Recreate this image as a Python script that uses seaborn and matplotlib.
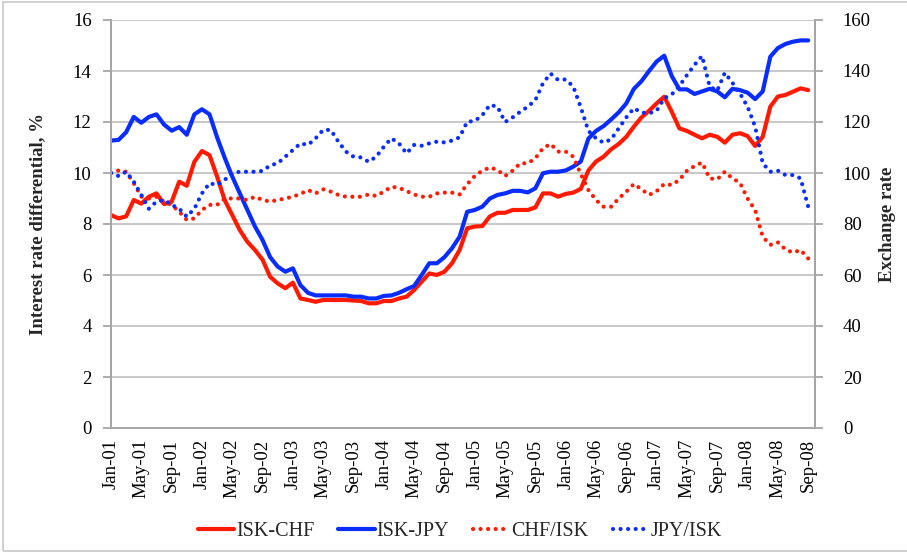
import numpy as np
import pandas as pd
import matplotlib
matplotlib.use('Agg')
import matplotlib.pyplot as plt
import seaborn as sns
from matplotlib.patches import Rectangle

# monthly data Jan-01 .. Sep-08
months = pd.date_range('2001-01-01', periods=93, freq='MS')

isk_chf = [8.35, 8.22, 8.3, 8.94, 8.8, 9.07, 9.2, 8.78, 8.87, 9.66,
           9.5, 10.44, 10.86, 10.7, 9.86, 8.94, 8.35, 7.76, 7.3, 6.98,
           6.6, 5.93, 5.67, 5.48, 5.7, 5.08, 5.02, 4.95, 5.02, 5.02,
           5.02, 5.02, 5.0, 4.98, 4.89, 4.89, 4.98, 4.98, 5.08, 5.15,
           5.41, 5.74, 6.06, 6.0, 6.13, 6.46, 6.98, 7.83, 7.9, 7.92,
           8.3, 8.44, 8.44, 8.55, 8.55, 8.55, 8.65, 9.2, 9.2, 9.07,
           9.18, 9.23, 9.38, 10.1, 10.45, 10.64, 10.93, 11.14, 11.42, 11.82,
           12.18, 12.44, 12.73, 12.99, 12.4, 11.75, 11.65, 11.5, 11.36, 11.5,
           11.42, 11.19, 11.5, 11.56, 11.45, 11.06, 11.42, 12.6, 13.0, 13.06,
           13.19, 13.32, 13.25]

isk_jpy = [11.27, 11.3, 11.6, 12.2, 11.97, 12.2, 12.3, 11.9, 11.66, 11.8,
           11.5, 12.3, 12.5, 12.3, 11.4, 10.6, 9.86, 9.2, 8.55, 7.9,
           7.37, 6.7, 6.33, 6.13, 6.26, 5.6, 5.3, 5.2, 5.2, 5.2,
           5.2, 5.2, 5.15, 5.15, 5.08, 5.08, 5.18, 5.2, 5.3, 5.44,
           5.57, 6.0, 6.46, 6.46, 6.7, 7.05, 7.5, 8.48, 8.55, 8.68,
           9.0, 9.14, 9.2, 9.3, 9.3, 9.24, 9.4, 9.99, 10.05, 10.05,
           10.1, 10.25, 10.45, 11.35, 11.65, 11.84, 12.1, 12.38, 12.73, 13.3,
           13.6, 14.0, 14.37, 14.6, 13.8, 13.28, 13.28, 13.1, 13.2, 13.3,
           13.2, 12.97, 13.3, 13.25, 13.15, 12.9, 13.2, 14.56, 14.9, 15.06,
           15.15, 15.2, 15.2]

chf_isk = [100, 101, 100.5, 96, 90.7, 90, 90.7, 88.8, 87.5, 84.8,
           81.6, 82.2, 85.5, 87.5, 87.5, 90, 90, 90, 89.4, 90.7,
           89.4, 88.8, 89.4, 90, 90.7, 91.8, 93.3, 92, 93.6, 92.7,
           91.4, 90.7, 90.7, 90.7, 91.6, 91, 92.7, 94.6, 94.2, 92.9,
           91.6, 90.7, 90.7, 92, 92.3, 92.3, 91.6, 95.6, 98.8, 100.9,
           102.2, 101.2, 98.8, 100.9, 103.8, 103.8, 105.8, 109.7, 111.4, 108.4,
           108.4, 106.4, 99.5, 93.3, 89.4, 86.8, 86.8, 90, 92.7, 95.7,
           93.6, 91.4, 92.9, 95.7, 95.3, 97.3, 100.9, 102.7, 104.1, 97.9,
           97.5, 100.5, 97.9, 96.2, 90, 85.5, 75, 71.8, 72.8, 70,
           68.8, 69.8, 66.5]

jpy_isk = [100, 98.8, 100.5, 96.6, 91.4, 86, 88.8, 89.4, 87.5, 86,
           82.9, 86, 92, 96, 95.3, 97.3, 99.9, 100.5, 100.5, 100.5,
           100.8, 103, 103.8, 106.4, 109, 111.6, 111, 113.6, 116.9, 116.9,
           112.3, 108.4, 106.4, 106.1, 104.4, 106.4, 110.3, 113.6, 111.6, 107.7,
           111, 110.7, 111.6, 112.3, 112, 112.7, 114, 120.1, 120.4, 122.7,
           126.7, 126, 120, 121.8, 124, 126, 128.6, 135.2, 139, 136.5,
           136.7, 133.9, 125.7, 116.5, 113.6, 111.9, 113.2, 117.5, 121.8, 125.4,
           123.7, 123.4, 124.4, 129.3, 130.8, 134.1, 138.4, 142.4, 145.9, 133.9,
           132.3, 139.3, 135.4, 131.2, 126, 118.2, 103.8, 100.5, 100.9, 99.2,
           99.2, 97.9, 86.8]

df = pd.DataFrame({'m': np.arange(len(months)), 'ISK-CHF': isk_chf, 'ISK-JPY': isk_jpy,
                   'CHF/ISK': chf_isk, 'JPY/ISK': jpy_isk})

red = '#ff1a00'
blue = '#0a2dff'
grey = '#a6a6a6'

sns.set_style('white')
plt.rcParams['font.family'] = ['Liberation Serif', 'DejaVu Serif']
plt.rcParams['font.size'] = 13

fig, ax = plt.subplots(figsize=(9.07, 5.54), dpi=100)
fig.subplots_adjust(left=111/907, right=815/907, top=1-20/554, bottom=1-428/554)
ax2 = ax.twinx()

dot = (0, (0.01, 1.8))
sns.lineplot(data=df, x='m', y='ISK-CHF', ax=ax, color=red, lw=3, label='ISK-CHF')
sns.lineplot(data=df, x='m', y='ISK-JPY', ax=ax, color=blue, lw=3, label='ISK-JPY')
sns.lineplot(data=df, x='m', y='CHF/ISK', ax=ax2, color=red, lw=3, linestyle=dot,
             dash_capstyle='round', label='CHF/ISK')
sns.lineplot(data=df, x='m', y='JPY/ISK', ax=ax2, color=blue, lw=3, linestyle=dot,
             dash_capstyle='round', label='JPY/ISK')

h1, l1 = ax.get_legend_handles_labels()
h2, l2 = ax2.get_legend_handles_labels()
ax.get_legend().remove()
ax2.get_legend().remove()

ax.set_xlim(0, 92.9)
ax.set_ylim(0, 16)
ax2.set_ylim(0, 160)
ax.set_yticks(np.arange(0, 17, 2))
ax2.set_yticks(np.arange(0, 161, 20))
ticks = np.arange(0, 93, 4)
ax.set_xticks(ticks)
ax.set_xticklabels(months[ticks].strftime('%b-%y'), rotation=90)

ax.yaxis.grid(True, color='#c4c4c4', lw=1.3)
ax.set_axisbelow(True)
ax.set_xlabel('')
ax.set_ylabel('Interest rate differential, %', fontweight='bold', fontsize=13.5, labelpad=19)
ax2.set_ylabel('Exchange rate', fontweight='bold', fontsize=13.5, labelpad=6)

for a in (ax, ax2):
    for s in a.spines.values():
        s.set_color(grey)
        s.set_linewidth(1.3)
    a.spines['top'].set_visible(False)
    a.tick_params(colors=grey, labelcolor='black', labelsize=13.5, width=1.3, length=6, direction='out')
ax.tick_params(axis='x', length=5, pad=3)
ax.tick_params(axis='y', pad=8)
ax2.tick_params(axis='y', pad=14)

fig.legend(h1 + h2, l1 + l2, loc='center', bbox_to_anchor=(460/907, 1-531/554), ncol=4,
           frameon=False, handlelength=1.8, handletextpad=0.1, columnspacing=1.2, fontsize=14.5)

fig.patches.append(Rectangle((3/907, 3/554), 1.0, 1-5/554, transform=fig.transFigure,
                             fill=False, edgecolor='#c8c8c8', lw=1.2))

fig.savefig('out.png', dpi=100)
